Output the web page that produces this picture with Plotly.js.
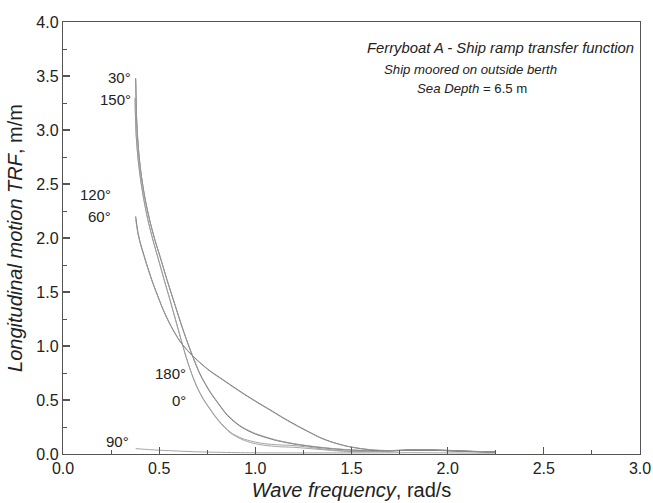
<!DOCTYPE html>
<html>
<head>
<meta charset="utf-8">
<script src="https://cdn.plot.ly/plotly-3.0.1.min.js"></script>
<style>html,body{margin:0;padding:0;background:#fff;}#chart{width:653px;height:503px;}</style>
</head>
<body>
<div id="chart"></div>
<script>
// Wave frequency (rad/s) and longitudinal motion TRF (m/m) per heading
const x30  = [0.378,0.380,0.383,0.388,0.396,0.408,0.425,0.45,0.478,0.504,0.54,0.582,0.62,0.66,0.712,0.764,0.81,0.853,0.9,0.936,1.0,1.06,1.11,1.2,1.336,1.45,1.55,1.65,1.75,1.85,1.95,2.05,2.15,2.25];
const y30  = [3.48,3.30,3.10,2.93,2.75,2.57,2.38,2.17,1.98,1.83,1.615,1.38,1.17,0.97,0.74,0.575,0.46,0.36,0.285,0.24,0.185,0.15,0.125,0.093,0.06,0.042,0.032,0.029,0.032,0.036,0.035,0.028,0.022,0.018];
const x180 = x30;
const y180 = [3.46,3.29,3.095,2.925,2.745,2.565,2.378,2.17,1.982,1.833,1.62,1.385,1.175,0.975,0.745,0.58,0.466,0.366,0.29,0.245,0.19,0.155,0.129,0.096,0.063,0.044,0.034,0.031,0.034,0.038,0.036,0.03,0.024,0.02];

const x150 = [0.375,0.376,0.378,0.381,0.386,0.393,0.403,0.418,0.44,0.468,0.495,0.525,0.556,0.585,0.61,0.64,0.67,0.70,0.73,0.764,0.81,0.868,0.93,0.988,1.05,1.12,1.2,1.27,1.336,1.42,1.5,1.6,1.7,1.8,1.9,2.0,2.1,2.2,2.25];
const y150 = [3.30,3.18,3.06,2.94,2.82,2.69,2.55,2.38,2.18,1.98,1.81,1.62,1.43,1.245,1.085,0.90,0.74,0.61,0.51,0.42,0.31,0.205,0.145,0.115,0.095,0.085,0.078,0.065,0.05,0.035,0.025,0.025,0.03,0.04,0.04,0.035,0.025,0.02,0.018];
const x0   = x150;
const y0   = [3.29,3.17,3.055,2.935,2.815,2.685,2.545,2.377,2.177,1.977,1.807,1.617,1.427,1.242,1.082,0.897,0.736,0.605,0.505,0.414,0.303,0.198,0.135,0.1,0.08,0.068,0.062,0.052,0.042,0.03,0.022,0.022,0.027,0.035,0.036,0.031,0.023,0.018,0.016];

const x60  = [0.378,0.383,0.39,0.40,0.416,0.44,0.468,0.50,0.52,0.56,0.61,0.66,0.71,0.764,0.83,0.9,0.96,1.024,1.09,1.15,1.22,1.284,1.34,1.4,1.47,1.545,1.62,1.7,1.8,1.9,2.0,2.1,2.2,2.25];
const y60  = [2.20,2.13,2.05,1.97,1.87,1.73,1.58,1.43,1.34,1.19,1.04,0.935,0.85,0.77,0.69,0.605,0.535,0.465,0.395,0.33,0.26,0.20,0.15,0.11,0.075,0.05,0.035,0.03,0.035,0.035,0.03,0.025,0.02,0.018];
const x120 = x60;
const y120 = [2.17,2.11,2.035,1.96,1.862,1.724,1.576,1.427,1.337,1.187,1.037,0.932,0.847,0.767,0.686,0.601,0.531,0.461,0.391,0.326,0.256,0.197,0.147,0.108,0.074,0.052,0.037,0.032,0.036,0.037,0.031,0.026,0.021,0.019];

const x90  = [0.378,0.45,0.5,0.6,0.7,0.8,0.9,1.0,1.2,1.4,1.6,1.8,2.0,2.25];
const y90  = [0.05,0.04,0.035,0.027,0.02,0.016,0.013,0.011,0.01,0.01,0.01,0.012,0.01,0.008];

const headingLabels = ['30°','150°','120°','60°','180°','0°','90°'];
const labelX = [0.364,0.364,0.26,0.26,0.65,0.65,0.354];
const labelY = [3.49,3.28,2.40,2.20,0.75,0.50,0.12];

const xTicks = [0,0.5,1.0,1.5,2.0,2.5,3.0];
const yTicks = [0,0.5,1.0,1.5,2.0,2.5,3.0,3.5,4.0];

const dark = '#5a5a5a', gray = '#9a9a9a';
function tr(x, y, name, color){
  return {x:x, y:y, name:name, type:'scatter', mode:'lines',
          line:{color:color, width:0.9, shape:'spline', smoothing:0.8},
          hoverinfo:'name+x+y'};
}
const data = [
  tr(x30,y30,'30°',dark), tr(x180,y180,'180°',gray),
  tr(x150,y150,'150°',gray), tr(x0,y0,'0°',gray),
  tr(x60,y60,'60°',dark), tr(x120,y120,'120°',gray),
  tr(x90,y90,'90°',gray)
];

const FONT = '"Liberation Sans", Arial, Helvetica, sans-serif';
const annotations = headingLabels.map((t,i)=>({
  x:labelX[i], y:labelY[i], xref:'x', yref:'y', text:t, showarrow:false,
  xanchor:'right', yanchor:'middle', font:{family:FONT, size:15, color:'#222'}
}));
annotations.push(
  {x:0.7590, y:0.9398, xref:'paper', yref:'paper', text:'<i>Ferryboat A - Ship ramp transfer function</i>',
   showarrow:false, xanchor:'center', yanchor:'middle', font:{family:FONT, size:14.8, color:'#222'}},
  {x:0.7054, y:0.8912, xref:'paper', yref:'paper', text:'<i>Ship moored on outside berth</i>',
   showarrow:false, xanchor:'center', yanchor:'middle', font:{family:FONT, size:13.2, color:'#222'}},
  {x:0.7088, y:0.8472, xref:'paper', yref:'paper', text:'<i>Sea Depth</i> = 6.5 m',
   showarrow:false, xanchor:'center', yanchor:'middle', font:{family:FONT, size:13.2, color:'#222'}}
);

const axisCommon = {
  showgrid:false, zeroline:false, showline:true, mirror:true, linecolor:'#555', linewidth:1.2,
  ticks:'inside', ticklen:7, tickcolor:'#555', tickwidth:1.2,
  tickfont:{family:FONT, size:16, color:'#222'}, tickformat:'.1f', fixedrange:true
};
const layout = {
  width:653, height:503, margin:{l:63, r:13, t:22, b:49},
  paper_bgcolor:'#fff', plot_bgcolor:'#fff', showlegend:false,
  font:{family:FONT, color:'#222'},
  xaxis:Object.assign({}, axisCommon, {range:[0,3], tickvals:xTicks,
    minor:{dtick:0.25, ticks:'inside', ticklen:4, tickcolor:'#555', tickwidth:1},
    title:{text:'<i>Wave frequency</i>, rad/s', font:{family:FONT, size:20, color:'#222'}, standoff:6}}),
  yaxis:Object.assign({}, axisCommon, {range:[0,4], tickvals:yTicks,
    minor:{dtick:0.25, ticks:'inside', ticklen:4, tickcolor:'#555', tickwidth:1},
    title:{text:'<i>Longitudinal motion TRF</i>, m/m', font:{family:FONT, size:20, color:'#222'}, standoff:8}}),
  annotations:annotations
};
Plotly.newPlot('chart', data, layout, {displayModeBar:false, staticPlot:true});
</script>
</body>
</html>
